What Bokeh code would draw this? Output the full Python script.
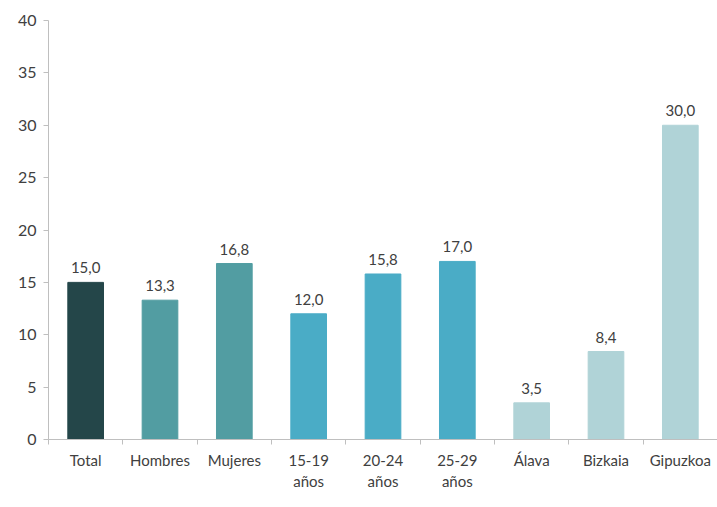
from bokeh.plotting import figure
from bokeh.models import ColumnDataSource, Range1d, FixedTicker
from bokeh.core.properties import value
from bokeh.embed import file_html
from bokeh.resources import INLINE

categories = ["Total", "Hombres", "Mujeres", "15-19 años", "20-24 años", "25-29 años", "Álava", "Bizkaia", "Gipuzkoa"]
tick_labels = ["Total", "Hombres", "Mujeres", "15-19\naños", "20-24\naños", "25-29\naños", "Álava", "Bizkaia", "Gipuzkoa"]
values = [15.0, 13.3, 16.8, 12.0, 15.8, 17.0, 3.5, 8.4, 30.0]
colors = ["#244649", "#529DA2", "#529DA2", "#4AACC6", "#4AACC6", "#4AACC6", "#B0D3D7", "#B0D3D7", "#B0D3D7"]
y_ticks = [0, 5, 10, 15, 20, 25, 30, 35, 40]

FONT = "Lato"
TXT = "#404040"
AXC = "#BFBFBF"

n = len(categories)
centers = [i + 0.5 for i in range(n)]
labels = [f"{v:.1f}".replace(".", ",") for v in values]
src = ColumnDataSource(dict(x=centers, cat=categories, val=values, col=colors, lab=labels))

p = figure(width=717, height=503, x_range=Range1d(0, n),
           y_range=Range1d(0, 40), output_backend="svg", toolbar_location=None,
           min_border_left=48, min_border_right=0,
           min_border_top=20, min_border_bottom=64)
p.outline_line_color = None
p.xgrid.visible = False
p.ygrid.visible = False
p.background_fill_color = "white"

p.vbar(x="x", top="val", width=0.48, color="col", source=src)
p.text(x="x", y="val", text="lab", source=src, text_align="center",
       text_baseline="bottom", y_offset=-9, text_font=value(FONT),
       text_font_size="15px", text_color=TXT)

# y axis
ya = p.yaxis[0]
ya.ticker = FixedTicker(ticks=y_ticks)
ya.axis_line_color = AXC
ya.major_tick_line_color = AXC
ya.major_tick_in = 0
ya.major_tick_out = 5
ya.minor_tick_line_color = None
ya.major_label_text_font = FONT
ya.major_label_text_font_size = "16px"
ya.major_label_text_color = TXT
ya.major_label_standoff = 7

# x axis: labels at category centres, ticks at category boundaries
xa = p.xaxis[0]
xa.ticker = FixedTicker(ticks=centers, minor_ticks=list(range(n + 1)))
xa.major_label_overrides = {c: t for c, t in zip(centers, tick_labels)}
xa.axis_line_color = AXC
xa.major_tick_line_color = None
xa.minor_tick_line_color = AXC
xa.minor_tick_in = 0
xa.minor_tick_out = 5
xa.major_label_text_font = FONT
xa.major_label_text_font_size = "15px"
xa.major_label_text_color = TXT
xa.major_label_standoff = 5

open("out.html", "w").write(file_html(p, INLINE))
